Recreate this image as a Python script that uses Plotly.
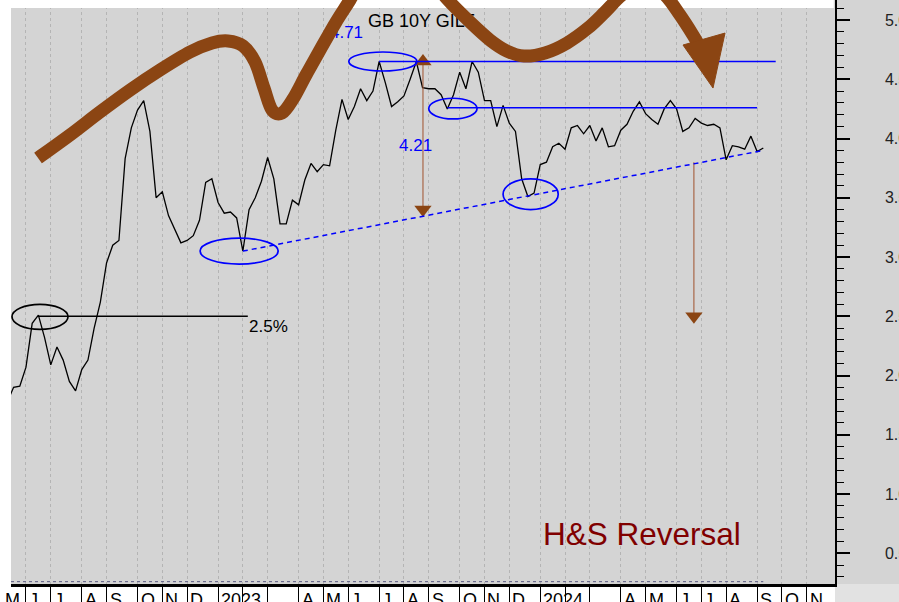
import pandas as pd
import plotly.graph_objects as go

# weekly (Friday) closes of the UK 10y gilt yield, %
start_date = "2022-05-13"
gilt_yield = [
    1.78, 1.90, 1.91, 2.07, 2.44, 2.51, 2.32, 2.09, 2.24, 2.13,
    1.95, 1.87, 2.05, 2.13, 2.40, 2.62, 2.95, 3.10, 3.14, 3.83,
    4.09, 4.24, 4.32, 4.06, 3.50, 3.55, 3.35, 3.24, 3.12, 3.14,
    3.18, 3.31, 3.63, 3.66, 3.46, 3.37, 3.38, 3.33, 3.05, 3.40,
    3.50, 3.64, 3.84, 3.66, 3.28, 3.28, 3.48, 3.44, 3.65, 3.79,
    3.72, 3.78, 3.77, 4.07, 4.33, 4.16, 4.27, 4.42, 4.32, 4.40,
    4.65, 4.47, 4.27, 4.31, 4.36, 4.50, 4.65, 4.43, 4.42, 4.42,
    4.37, 4.25, 4.37, 4.56, 4.42, 4.65, 4.56, 4.32, 4.32, 4.10,
    4.28, 4.13, 4.06, 3.66, 3.51, 3.54, 3.78, 3.80, 3.93, 3.96,
    3.91, 4.09, 4.11, 4.04, 4.11, 3.98, 4.09, 3.93, 3.94, 4.07,
    4.12, 4.23, 4.31, 4.21, 4.16, 4.12, 4.25, 4.32, 4.25, 4.06,
    4.09, 4.17, 4.13, 4.11, 4.12, 4.09, 3.82, 3.94, 3.93, 3.91,
    4.02, 3.89, 3.92,
]
month_labels = ["M", "J", "J", "A", "S", "O", "N", "D", "2023", "", "",
                "A", "M", "J", "J", "A", "S", "O", "N", "D", "2024", "", "",
                "A", "M", "J", "J", "A", "S", "O", "N"]

# chart markup, in (week number, yield) units
neck_x, neck_y = [38, 122], [3.05, 3.90]
head_x, head_level = [60, 124], 4.65
shoulder_x, shoulder_level = [71, 121], 4.26
low_x, low_level = [5, 38.8], 2.5
ellipses = [  # x0, x1, y0, y1, colour
    (0.74, 9.78, 2.39, 2.60, "black"),
    (31.1, 43.7, 2.94, 3.16, "blue"),
    (55.1, 66.1, 4.57, 4.73, "blue"),
    (68.0, 75.8, 4.165, 4.34, "blue"),
    (80.0, 88.9, 3.40, 3.66, "blue"),
]
target1_x, target1_y = [67.07, 67.07], [4.65, 3.40]
target2_x, target2_y = [110.8, 110.8], [3.80, 2.50]
swing_x = [4.94, 10.10, 14.94, 19.79, 24.63, 29.47, 33.02, 35.60, 38.02, 39.96,
           41.41, 42.70, 44.32, 46.09, 48.19, 50.45, 53.03, 55.29, 57.71, 62.55,
           66.27, 68.85, 71.11, 74.66, 77.89, 80.63, 83.37, 86.76, 90.31, 93.70,
           96.45, 99.19, 102.90, 106.13, 108.55, 110.65, 112.26]
swing_y = [3.835, 4.030, 4.224, 4.409, 4.578, 4.730, 4.806, 4.823, 4.781, 4.646,
           4.426, 4.241, 4.215, 4.333, 4.536, 4.747, 4.983, 5.169, 5.380, 5.591,
           5.506, 5.321, 5.169, 4.983, 4.831, 4.738, 4.696, 4.722, 4.806, 4.932,
           5.068, 5.211, 5.338, 5.211, 5.042, 4.873, 4.730]
head_tri_x = [109.04, 115.82, 113.88]
head_tri_y = [4.789, 4.890, 4.426]

FONT = "Liberation Sans, Arial, sans-serif"
BROWN = "#8B4513"
X_RANGE = [0.58, 133.57]

weeks = list(range(len(gilt_yield)))
start = pd.Timestamp(start_date)
fridays = pd.date_range("2022-05-06", "2024-11-29", freq="W-FRI")
month_pos = [(d - start).days // 7 for d in fridays if d.day <= 7]


def smooth_path(xs, ys):
    pts = list(zip(xs, ys))
    path = f"M {pts[0][0]},{pts[0][1]}"
    for i in range(len(pts) - 1):
        p0 = pts[max(i - 1, 0)]
        p1, p2 = pts[i], pts[i + 1]
        p3 = pts[min(i + 2, len(pts) - 1)]
        c1 = (p1[0] + (p2[0] - p0[0]) / 6, p1[1] + (p2[1] - p0[1]) / 6)
        c2 = (p2[0] - (p3[0] - p1[0]) / 6, p2[1] - (p3[1] - p1[1]) / 6)
        path += f" C {c1[0]},{c1[1]} {c2[0]},{c2[1]} {p2[0]},{p2[1]}"
    return path


fig = go.Figure()
fig.add_trace(go.Scatter(x=weeks, y=gilt_yield, mode="lines",
                         line=dict(color="black", width=1.3), hoverinfo="skip"))

# target arrows
for tx, ty in [(target1_x, target1_y), (target2_x, target2_y)]:
    fig.add_trace(go.Scatter(x=tx, y=ty, mode="lines",
                             line=dict(color="#A0522D", width=1)))
fig.add_trace(go.Scatter(x=[target1_x[0]], y=[target1_y[0]], mode="markers",
                         marker=dict(symbol="triangle-up", size=15, color=BROWN)))
fig.add_trace(go.Scatter(x=[target1_x[1], target2_x[1]], y=[target1_y[1], target2_y[1]],
                         mode="markers",
                         marker=dict(symbol="triangle-down", size=15, color=BROWN)))

# labels that the brown swing line passes over
fig.add_trace(go.Scatter(x=[58.2], y=[4.983], mode="text", text=["GB 10Y GILT"],
                         textposition="middle right",
                         textfont=dict(family=FONT, size=18, color="black")))
fig.add_trace(go.Scatter(x=[52.06], y=[4.88], mode="text", text=["4.71"],
                         textposition="middle right",
                         textfont=dict(family=FONT, size=17, color="blue")))

shapes = []
# gray strip right of the plot, white strip on top
shapes.append(dict(type="rect", xref="paper", yref="paper", x0=1, x1=1.1, y0=0, y1=1,
                   fillcolor="#d4d4d4", line_width=0, layer="below"))
shapes.append(dict(type="rect", xref="paper", yref="paper", x0=1, x1=1.1, y0=-0.05, y1=0,
                   fillcolor="#e2e2e2", line_width=0, layer="below"))
shapes.append(dict(type="rect", xref="paper", yref="paper", x0=0, x1=0.9985,
                   y0=1 - 8 / 584, y1=1, fillcolor="white", line_width=0, layer="above"))
# dotted base line just above the time axis, under the data span
shapes.append(dict(type="line", xref="x", yref="y domain", x0=X_RANGE[0], x1=weeks[-1],
                   y0=0.004, y1=0.004, line=dict(color="#5a5a80", width=1, dash="dot")))

shapes.append(dict(type="line", x0=low_x[0], x1=low_x[1], y0=low_level, y1=low_level,
                   line=dict(color="black", width=1.3)))
shapes.append(dict(type="line", x0=head_x[0], x1=head_x[1], y0=head_level, y1=head_level,
                   line=dict(color="blue", width=1.5)))
shapes.append(dict(type="line", x0=shoulder_x[0], x1=shoulder_x[1],
                   y0=shoulder_level, y1=shoulder_level, line=dict(color="blue", width=1.5)))
shapes.append(dict(type="line", x0=neck_x[0], x1=neck_x[1], y0=neck_y[0], y1=neck_y[1],
                   line=dict(color="blue", width=1.5, dash="5px,4px")))
for x0, x1, y0, y1, col in ellipses:
    shapes.append(dict(type="circle", x0=x0, x1=x1, y0=y0, y1=y1,
                       line=dict(color=col, width=1.7)))
shapes.append(dict(type="path", path=smooth_path(swing_x, swing_y), layer="above",
                   line=dict(color=BROWN, width=13)))
tri = "M " + " L ".join(f"{x},{y}" for x, y in zip(head_tri_x, head_tri_y)) + " Z"
shapes.append(dict(type="path", path=tri, layer="above", fillcolor=BROWN,
                   line=dict(color=BROWN, width=1)))

annotations = [
    dict(x=62.9, y=3.945, text="4.21", xanchor="left", showarrow=False,
         font=dict(family=FONT, size=17, color="blue")),
    dict(x=38.7, y=2.41, text="2.5%", xanchor="left", showarrow=False,
         font=dict(family=FONT, size=17, color="black")),
    dict(x=86.1, y=0.662, text="H&S Reversal", xanchor="left", showarrow=False,
         font=dict(family=FONT, size=31.5, color="#800000")),
]
for pos, lab in zip(month_pos, month_labels):
    if pos < X_RANGE[0]:
        # month that starts left of the window: label hangs on the left edge
        pos_kw = dict(x=X_RANGE[0], xanchor="right", xshift=11)
    else:
        pos_kw = dict(x=pos, xanchor="left", xshift=1)
    annotations.append(dict(y=0, yref="paper", text=lab, yanchor="top", yshift=-4,
                            showarrow=False,
                            font=dict(family=FONT, size=18, color="black"), **pos_kw))

fig.update_layout(
    width=899, height=602,
    margin=dict(l=11, r=64, t=0, b=18, autoexpand=False),
    paper_bgcolor="white", plot_bgcolor="#d4d4d4",
    showlegend=False,
    shapes=shapes, annotations=annotations,
    font=dict(family=FONT, color="black"),
)
fig.update_xaxes(range=X_RANGE, tickvals=month_pos, showticklabels=False,
                 ticks="outside", ticklen=18, tickwidth=1, tickcolor="black",
                 showline=True, linewidth=2.5, linecolor="black",
                 showgrid=True, gridcolor="#b4b4b4", griddash="dot", gridwidth=1,
                 zeroline=False, automargin=False)
fig.update_yaxes(range=[0.2405, 5.169], side="right", dtick=0.5, tick0=0,
                 tickformat=".1f", ticks="outside", ticklen=13, tickwidth=1.5,
                 tickcolor="black", showline=True, linewidth=1.5, linecolor="black",
                 minor=dict(dtick=0.1, ticks="outside", ticklen=7, tickwidth=1,
                            tickcolor="black"),
                 ticklabelstandoff=32, tickfont=dict(family=FONT, size=16, color="#222"),
                 showgrid=False, zeroline=False, automargin=False)

fig.write_html("out.html", config={"displayModeBar": False},
               post_script="document.body.style.margin='0px';")
